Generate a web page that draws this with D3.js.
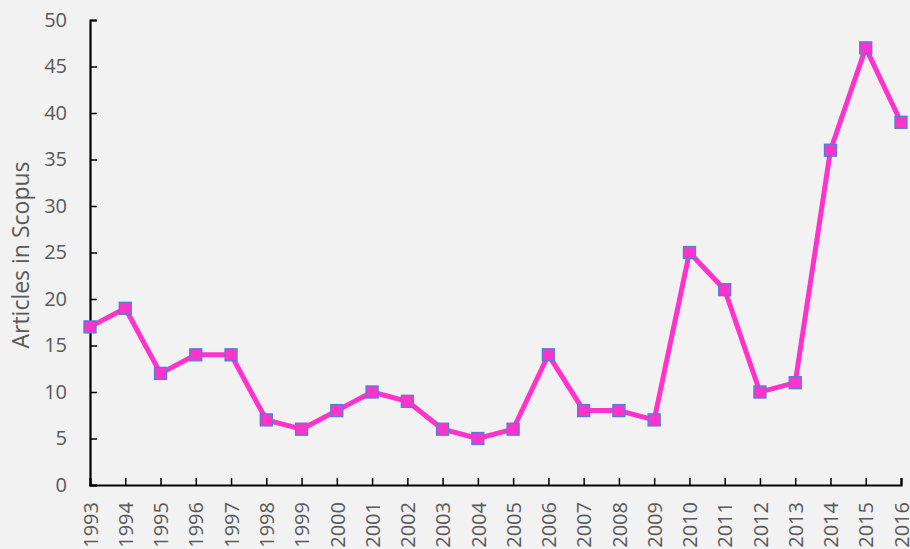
<!DOCTYPE html>
<html>
<head>
<meta charset="utf-8">
<script src="https://cdn.jsdelivr.net/npm/d3@7"></script>
<style>
  html, body { margin: 0; padding: 0; background: #f2f2f2; }
  svg { display: block; }
</style>
</head>
<body>
<svg id="chart" width="910" height="549"></svg>
<script>
// Articles indexed in Scopus per year
const years = ["1993","1994","1995","1996","1997","1998","1999","2000","2001","2002","2003","2004","2005","2006","2007","2008","2009","2010","2011","2012","2013","2014","2015","2016"];
const articles = [17,19,12,14,14,7,6,8,10,9,6,5,6,14,8,8,7,25,21,10,11,36,47,39];
const yTicks = [0,5,10,15,20,25,30,35,40,45,50];

const svg = d3.select("#chart");
const W = 910, H = 549;
const plotL = 90, plotR = 901, plotT = 20, plotB = 485;
const font = "'Open Sans', 'Liberation Sans', sans-serif";

svg.append("rect").attr("width", W).attr("height", H).attr("fill", "#f2f2f2");

const x = d3.scalePoint().domain(years).range([plotL, plotR]);
const y = d3.scaleLinear().domain([0, 50]).range([plotB, plotT]);

// y axis: ticks point inward
const yAxis = svg.append("g")
  .attr("transform", `translate(${plotL},0)`)
  .call(d3.axisLeft(y).tickValues(yTicks).tickSize(-7).tickPadding(23));
yAxis.select(".domain").attr("stroke", "#000").attr("stroke-width", 2.2);
yAxis.selectAll(".tick line").attr("stroke", "#000").attr("stroke-width", 1.5);
yAxis.selectAll(".tick text")
  .attr("fill", "#595959").attr("font-size", 20).attr("font-family", font);

// x axis: ticks point upward, labels rotated
const xAxis = svg.append("g")
  .attr("transform", `translate(0,${plotB})`)
  .call(d3.axisBottom(x).tickSize(-7).tickPadding(0));
xAxis.select(".domain").attr("stroke", "#000").attr("stroke-width", 2.2);
xAxis.selectAll(".tick line").attr("stroke", "#000").attr("stroke-width", 1.5);
xAxis.selectAll(".tick").filter(d => d === years[0]).select("line").remove();
xAxis.selectAll(".tick text")
  .attr("fill", "#595959").attr("font-size", 20).attr("font-family", font)
  .attr("transform", "rotate(-90)")
  .attr("text-anchor", "end")
  .attr("dy", "0.36em")
  .attr("x", -17)
  .attr("y", 0);

// axis title
svg.append("text")
  .attr("transform", `translate(29,255) rotate(-90)`)
  .attr("text-anchor", "middle")
  .attr("fill", "#595959")
  .attr("font-size", 23)
  .attr("font-family", font)
  .text("Articles in Scopus");

const pts = years.map((yr, i) => ({ yr, v: articles[i] }));

svg.append("path")
  .datum(pts)
  .attr("fill", "none")
  .attr("stroke", "#ff33cc")
  .attr("stroke-width", 5)
  .attr("stroke-linejoin", "round")
  .attr("d", d3.line().x(d => x(d.yr)).y(d => y(d.v)));

const s = 12;
svg.append("g").selectAll("rect")
  .data(pts)
  .join("rect")
  .attr("x", d => x(d.yr) - s / 2)
  .attr("y", d => y(d.v) - s / 2)
  .attr("width", s)
  .attr("height", s)
  .attr("fill", "#ff33cc")
  .attr("stroke", "#4f7fd6")
  .attr("stroke-width", 1.3);
</script>
</body>
</html>
